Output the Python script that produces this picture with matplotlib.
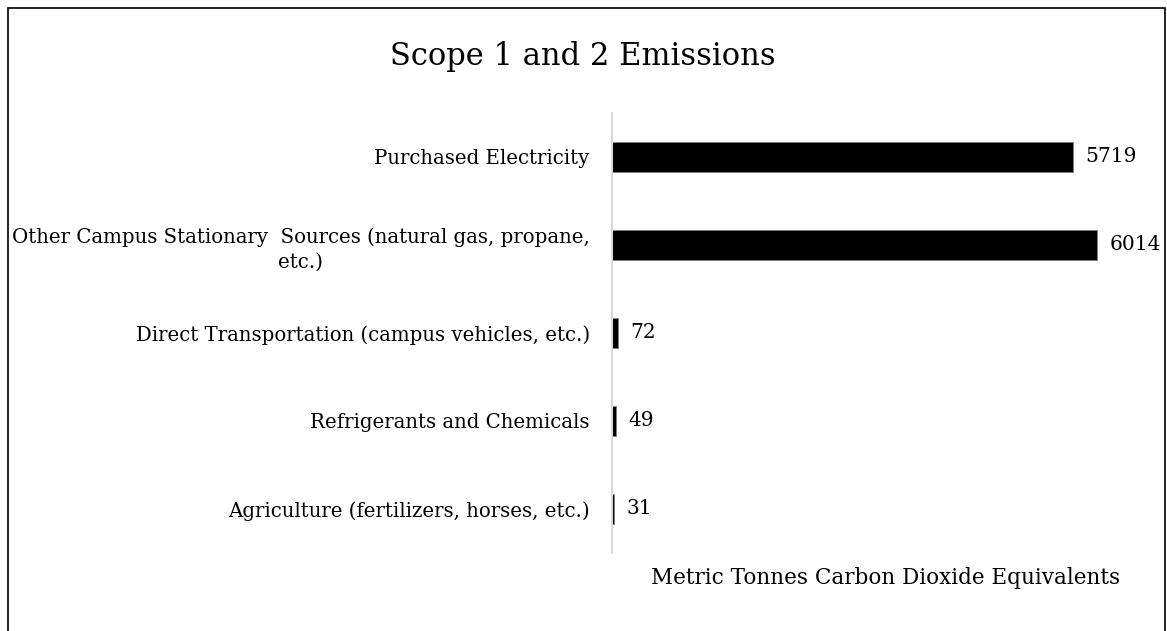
import matplotlib.pyplot as plt
from matplotlib.patches import Rectangle

# 데이터
categories = [
    "Purchased Electricity",
    "Other Campus Stationary  Sources (natural gas, propane,\netc.)",
    "Direct Transportation (campus vehicles, etc.)",
    "Refrigerants and Chemicals",
    "Agriculture (fertilizers, horses, etc.)",
]
values = [5719, 6014, 72, 49, 31]

plt.rcParams['font.family'] = ['DejaVu Serif']

W, H = 1167, 631
fig = plt.figure(figsize=(W / 100, H / 100), dpi=100)
# 플롯 영역 (픽셀 기준으로 맞춤)
ax = fig.add_axes([612 / W, 1 - 553 / H, (1160 - 612) / W, (553 - 113) / H])

y = list(range(len(categories)))
ax.barh(y, values, height=0.35, color='black', edgecolor='#7f7f7f', linewidth=0.6)
ax.set_ylim(len(categories) - 0.5, -0.5)
ax.set_xlim(0, 6800)

# 값 라벨
for yi, v in zip(y, values):
    ax.annotate(str(v), (v, yi), xytext=(9, 0), textcoords='offset points',
                va='center', ha='left', fontsize=14.5)

ax.set_yticks(y)
ax.set_yticklabels(categories, fontsize=14.2, multialignment='center', linespacing=1.35)
ax.tick_params(axis='y', length=0, pad=16)
ax.set_xticks([])

for side in ['top', 'right', 'bottom']:
    ax.spines[side].set_visible(False)
ax.spines['left'].set_color('#d9d9d9')
ax.spines['left'].set_linewidth(1.5)

ax.set_xlabel('Metric Tonnes Carbon Dioxide Equivalents', fontsize=15.5, labelpad=10)

fig.text(0.499, 1 - 57 / H, 'Scope 1 and 2 Emissions', ha='center', va='center', fontsize=22)

# 외곽 테두리
fig.patches.append(Rectangle((8 / W, -0.05), (1165 - 8) / W, 1 - 8 / H + 0.05,
                             transform=fig.transFigure, fill=False,
                             edgecolor='black', linewidth=1.2))

fig.savefig('out.png', dpi=100)
